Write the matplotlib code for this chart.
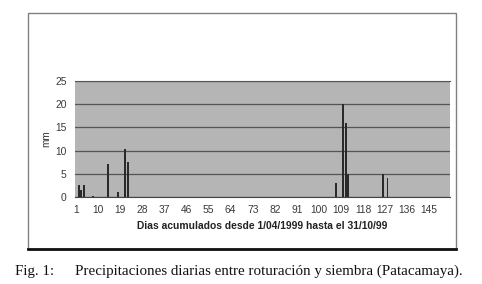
import matplotlib
matplotlib.use("Agg")
import matplotlib.pyplot as plt
from matplotlib.patches import Rectangle
import numpy as np

# daily rainfall (mm), only the rainy days
n_days = 153
rain_days = [2, 3, 4, 8, 14, 18, 21, 22, 107, 110, 111, 112, 126, 128]
rain_mm = [2.6, 1.5, 2.5, 0.3, 7.1, 1.0, 10.4, 7.5, 3.0, 20.0, 16.0, 5.0, 5.0, 4.1]
x_ticks = list(range(1, 146, 9))
y_ticks = [0, 5, 10, 15, 20, 25]

fig = plt.figure(figsize=(4.82, 2.84), dpi=100)

# outer frame of the chart
fig.patches.append(Rectangle((28/482, 1 - 249/284), 428/482, 236/284,
                             transform=fig.transFigure, fill=False,
                             edgecolor="#808080", lw=1.0))
fig.add_artist(plt.Line2D([28/482, 456/482], [1 - 249/284, 1 - 249/284],
                          transform=fig.transFigure, color="#111111", lw=2.0))

ax = fig.add_axes([75/482, 1 - 197/284, 375/482, 116/284])
ax.set_facecolor("#b5b5b5")
ax.bar(rain_days, rain_mm, width=0.8, color="#2a2a2a", zorder=3)

ax.set_xlim(0.5, n_days + 0.5)
ax.set_ylim(0, 25)
ax.set_yticks(y_ticks)
ax.set_xticks(x_ticks)
ax.set_xticklabels([str(t) for t in x_ticks])
ax.tick_params(length=0, labelsize=7.4, colors="#3a3a3a", pad=6)
for lab in ax.get_xticklabels() + ax.get_yticklabels():
    lab.set_family("Liberation Sans")
ax.grid(axis="y", color="#555555", lw=0.9, zorder=1)
for s in ["left", "right", "top"]:
    ax.spines[s].set_visible(False)
ax.spines["bottom"].set_color("#444444")
ax.spines["top"].set_visible(True)
ax.spines["top"].set_color("#555555")

ax.set_ylabel("mm", fontsize=7.2, family="Liberation Sans", color="#333333", labelpad=3)
ax.set_xlabel("Dias acumulados desde 1/04/1999 hasta el 31/10/99", fontsize=7.4,
              family="Liberation Sans", fontweight="bold", color="#222222", labelpad=4)

fig.text(15/482, 1 - 271/284, "Fig. 1:", family="Liberation Serif", fontsize=10.8,
         va="center", ha="left", color="#111111")
fig.text(75/482, 1 - 271/284,
         "Precipitaciones diarias entre roturación y siembra (Patacamaya).",
         family="Liberation Serif", fontsize=10.8, va="center", ha="left", color="#111111")

fig.savefig("out.png", dpi=100)
